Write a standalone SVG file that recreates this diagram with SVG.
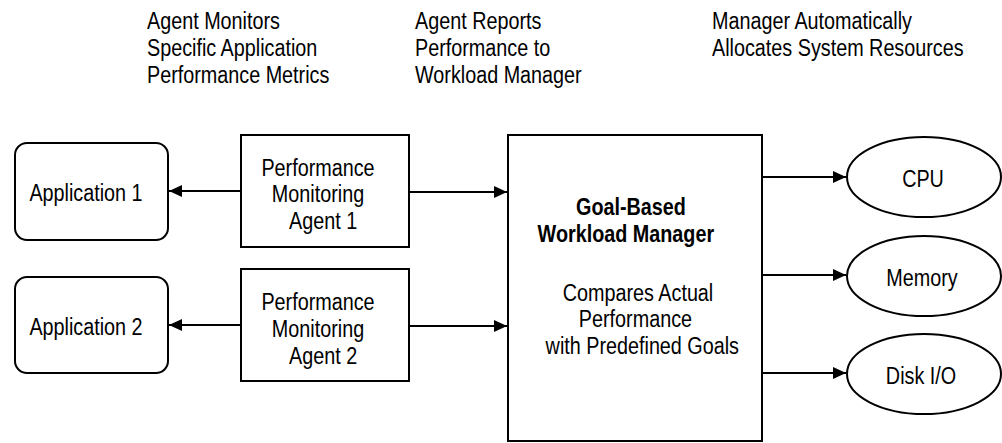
<svg xmlns="http://www.w3.org/2000/svg" width="1002" height="443" viewBox="0 0 1002 443">
<style>
.box{fill:#fff;stroke:#000;stroke-width:2}
.t{font-family:"Liberation Sans",Arial,sans-serif;font-size:23px;fill:#000}
.c{text-anchor:middle}
.b{font-weight:bold}
.ln{stroke:#000;stroke-width:2;fill:none;marker-end:url(#ah)}
</style>
<defs>
<marker id="ah" markerUnits="userSpaceOnUse" markerWidth="13" markerHeight="12" refX="13" refY="6" orient="auto">
<path d="M0,0 L13,6 L0,12 z" fill="#000"/>
</marker>
</defs>
<g id="labels">
<text class="t" transform="translate(147,29) scale(0.86,1)"><tspan x="0" y="0">Agent Monitors</tspan><tspan x="0" dy="27">Specific Application</tspan><tspan x="0" dy="27">Performance Metrics</tspan></text>
<text class="t" transform="translate(415,29) scale(0.86,1)"><tspan x="0" y="0">Agent Reports</tspan><tspan x="0" dy="27">Performance to</tspan><tspan x="0" dy="27">Workload Manager</tspan></text>
<text class="t" transform="translate(712,29) scale(0.86,1)"><tspan x="0" y="0">Manager Automatically</tspan><tspan x="0" dy="27">Allocates System Resources</tspan></text>
</g>
<g id="app1">
<rect class="box" x="15" y="143" width="153" height="97" rx="12"/>
<text class="t c" transform="translate(86,201) scale(0.86,1)">Application 1</text>
</g>
<g id="app2">
<rect class="box" x="15" y="277" width="153" height="96" rx="12"/>
<text class="t c" transform="translate(86,335) scale(0.86,1)">Application 2</text>
</g>
<g id="agent1">
<rect class="box" x="241" y="135" width="168" height="112"/>
<text class="t c" transform="translate(318,176) scale(0.86,1)"><tspan x="0" y="0">Performance</tspan><tspan x="0" dy="26.5">Monitoring</tspan><tspan x="6" dy="26.5">Agent 1</tspan></text>
</g>
<g id="agent2">
<rect class="box" x="241" y="269" width="168" height="112"/>
<text class="t c" transform="translate(318,310) scale(0.86,1)"><tspan x="0" y="0">Performance</tspan><tspan x="0" dy="27">Monitoring</tspan><tspan x="6" dy="27">Agent 2</tspan></text>
</g>
<g id="manager">
<rect class="box" x="508" y="135" width="254" height="306"/>
<text class="t c b" transform="translate(631,215) scale(0.86,1)"><tspan x="0" y="0">Goal-Based</tspan><tspan x="-6" dy="27">Workload Manager</tspan></text>
<text class="t c" transform="translate(638,301) scale(0.86,1)"><tspan x="0" y="0">Compares Actual</tspan><tspan x="-3" dy="26.5">Performance</tspan><tspan x="5" dy="26.5">with Predefined Goals</tspan></text>
</g>
<g id="cpu">
<ellipse class="box" cx="924" cy="177" rx="77" ry="40"/>
<text class="t c" transform="translate(923,187) scale(0.86,1)">CPU</text>
</g>
<g id="memory">
<ellipse class="box" cx="924" cy="276" rx="77" ry="40"/>
<text class="t c" transform="translate(922,286) scale(0.86,1)">Memory</text>
</g>
<g id="disk">
<ellipse class="box" cx="924" cy="374" rx="77" ry="40"/>
<text class="t c" transform="translate(921,384) scale(0.86,1)">Disk I/O</text>
</g>
<g id="connectors">
<line class="ln" x1="241" y1="191" x2="169" y2="191"/>
<line class="ln" x1="409" y1="192" x2="507" y2="192"/>
<line class="ln" x1="241" y1="325" x2="169" y2="325"/>
<line class="ln" x1="409" y1="326" x2="507" y2="326"/>
<line class="ln" x1="762" y1="177" x2="846" y2="177"/>
<line class="ln" x1="762" y1="275" x2="846" y2="275"/>
<line class="ln" x1="762" y1="373" x2="846" y2="373"/>
</g>
</svg>
